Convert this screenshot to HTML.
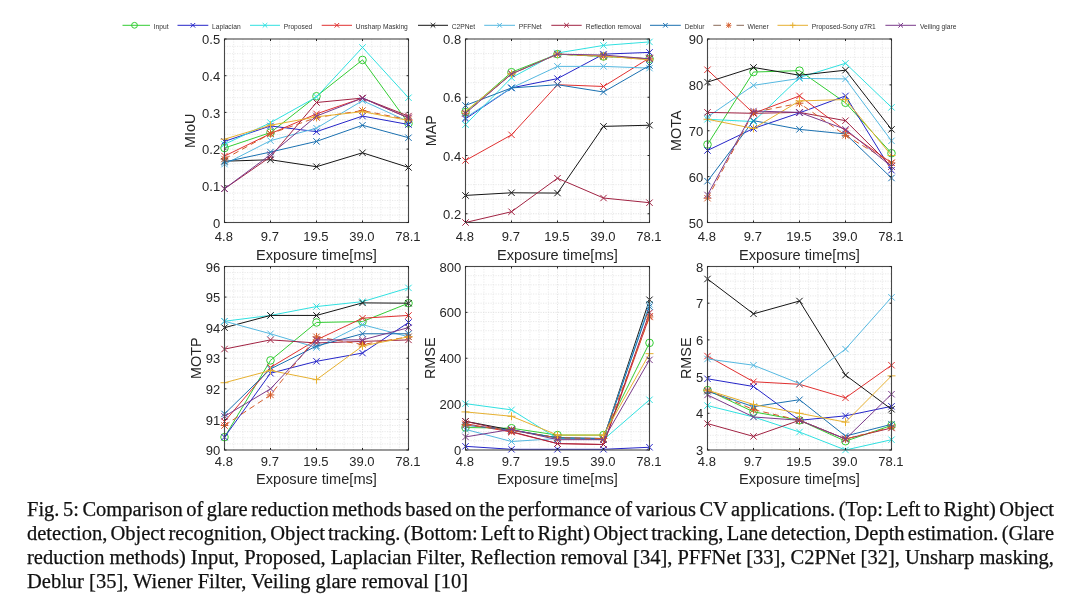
<!DOCTYPE html><html><head><meta charset="utf-8"><style>
html,body{margin:0;padding:0;background:#fff;width:1080px;height:615px;overflow:hidden}
svg{position:absolute;left:0;top:0;filter:blur(0.35px)}.cap{filter:blur(0.4px);-webkit-text-stroke:0.25px #111}
.cap{position:absolute;left:27px;top:496.9px;width:1027px;font-family:"Liberation Serif",serif;font-size:20.5px;line-height:24px;color:#111}.cap div{height:24px;white-space:nowrap;overflow:visible}.cap .j{text-align:justify;text-align-last:justify;word-spacing:-3px;white-space:normal}
</style></head><body>
<svg width="1080" height="615" viewBox="0 0 1080 615" font-family="Liberation Sans, sans-serif">
<line x1="122.5" y1="25.3" x2="150" y2="25.3" stroke="#33cc33" stroke-width="1"/>
<circle cx="134.50" cy="25.30" r="2.90" fill="none" stroke="#33cc33" stroke-width="1"/>
<text x="153.7" y="28.8" font-size="6.7" fill="#333">Input</text>
<line x1="177.5" y1="25.3" x2="208.3" y2="25.3" stroke="#2525c8" stroke-width="1"/>
<path d="M190.60,23.00L195.20,27.60M190.60,27.60L195.20,23.00" stroke="#2525c8" stroke-width="1" fill="none"/>
<text x="212" y="28.8" font-size="6.7" fill="#333">Laplacian</text>
<line x1="250" y1="25.3" x2="280" y2="25.3" stroke="#30e0e0" stroke-width="1"/>
<path d="M262.70,23.00L267.30,27.60M262.70,27.60L267.30,23.00" stroke="#30e0e0" stroke-width="1" fill="none"/>
<text x="283.7" y="28.8" font-size="6.7" fill="#333">Proposed</text>
<line x1="321.7" y1="25.3" x2="352" y2="25.3" stroke="#e03030" stroke-width="1"/>
<path d="M334.55,23.00L339.15,27.60M334.55,27.60L339.15,23.00" stroke="#e03030" stroke-width="1" fill="none"/>
<text x="355.8" y="28.8" font-size="6.7" fill="#333">Unsharp Masking</text>
<line x1="418" y1="25.3" x2="448" y2="25.3" stroke="#151515" stroke-width="1"/>
<path d="M430.70,23.00L435.30,27.60M430.70,27.60L435.30,23.00" stroke="#151515" stroke-width="1" fill="none"/>
<text x="451.7" y="28.8" font-size="6.7" fill="#333">C2PNet</text>
<line x1="484.2" y1="25.3" x2="515" y2="25.3" stroke="#55b8e0" stroke-width="1"/>
<path d="M497.30,23.00L501.90,27.60M497.30,27.60L501.90,23.00" stroke="#55b8e0" stroke-width="1" fill="none"/>
<text x="518.7" y="28.8" font-size="6.7" fill="#333">PFFNet</text>
<line x1="551.3" y1="25.3" x2="581.7" y2="25.3" stroke="#a02242" stroke-width="1"/>
<path d="M564.20,23.00L568.80,27.60M564.20,27.60L568.80,23.00" stroke="#a02242" stroke-width="1" fill="none"/>
<text x="585.8" y="28.8" font-size="6.7" fill="#333">Reflection removal</text>
<line x1="650" y1="25.3" x2="680.8" y2="25.3" stroke="#1a70b0" stroke-width="1"/>
<path d="M663.10,23.00L667.70,27.60M663.10,27.60L667.70,23.00" stroke="#1a70b0" stroke-width="1" fill="none"/>
<text x="684.7" y="28.8" font-size="6.7" fill="#333">Deblur</text>
<path d="M713.3,25.3H721M736.5,25.3H744" stroke="#8a6a58" stroke-width="1"/>
<path d="M726.40,23.00L731.00,27.60M726.40,27.60L731.00,23.00M725.94,25.30L731.46,25.30M728.70,22.54L728.70,28.06" stroke="#d45a28" stroke-width="0.9" fill="none"/>
<text x="747.5" y="28.8" font-size="6.7" fill="#333">Wiener</text>
<line x1="777.5" y1="25.3" x2="808" y2="25.3" stroke="#e6b030" stroke-width="1"/>
<path d="M789.88,25.30L795.62,25.30M792.75,22.43L792.75,28.18" stroke="#e6b030" stroke-width="1" fill="none"/>
<text x="811.7" y="28.8" font-size="6.7" fill="#333">Proposed-Sony α7R1</text>
<line x1="885.4" y1="25.3" x2="916" y2="25.3" stroke="#7a3a8a" stroke-width="1"/>
<path d="M898.40,23.00L903.00,27.60M898.40,27.60L903.00,23.00" stroke="#7a3a8a" stroke-width="1" fill="none"/>
<text x="920" y="28.8" font-size="6.7" fill="#333">Veiling glare</text>
<path d="M233.70,39.0V222.5M242.90,39.0V222.5M252.10,39.0V222.5M261.30,39.0V222.5M279.70,39.0V222.5M288.90,39.0V222.5M298.10,39.0V222.5M307.30,39.0V222.5M325.70,39.0V222.5M334.90,39.0V222.5M344.10,39.0V222.5M353.30,39.0V222.5M371.70,39.0V222.5M380.90,39.0V222.5M390.10,39.0V222.5M399.30,39.0V222.5M224.5,215.16H408.5M224.5,207.82H408.5M224.5,200.48H408.5M224.5,193.14H408.5M224.5,178.46H408.5M224.5,171.12H408.5M224.5,163.78H408.5M224.5,156.44H408.5M224.5,141.76H408.5M224.5,134.42H408.5M224.5,127.08H408.5M224.5,119.74H408.5M224.5,105.06H408.5M224.5,97.72H408.5M224.5,90.38H408.5M224.5,83.04H408.5M224.5,68.36H408.5M224.5,61.02H408.5M224.5,53.68H408.5M224.5,46.34H408.5" stroke="#e6e6e6" stroke-width="0.9" stroke-dasharray="1.2,1.3" fill="none"/>
<path d="M270.50,39.0V222.5M316.50,39.0V222.5M362.50,39.0V222.5M224.5,185.80H408.5M224.5,149.10H408.5M224.5,112.40H408.5M224.5,75.70H408.5" stroke="#e0e0e0" stroke-width="0.9" stroke-dasharray="1.2,1.3" fill="none"/>
<polyline points="224.50,148.00 270.50,132.59 316.50,96.25 362.50,59.92 408.50,123.41" fill="none" stroke="#33cc33" stroke-width="1"/>
<circle cx="224.50" cy="148.00" r="3.80" fill="none" stroke="#33cc33" stroke-width="1.0"/>
<circle cx="270.50" cy="132.59" r="3.80" fill="none" stroke="#33cc33" stroke-width="1.0"/>
<circle cx="316.50" cy="96.25" r="3.80" fill="none" stroke="#33cc33" stroke-width="1.0"/>
<circle cx="362.50" cy="59.92" r="3.80" fill="none" stroke="#33cc33" stroke-width="1.0"/>
<circle cx="408.50" cy="123.41" r="3.80" fill="none" stroke="#33cc33" stroke-width="1.0"/>
<polyline points="224.50,141.39 270.50,125.98 316.50,131.67 362.50,116.07 408.50,124.51" fill="none" stroke="#2525c8" stroke-width="1"/>
<path d="M221.30,138.19L227.70,144.59M221.30,144.59L227.70,138.19" stroke="#2525c8" stroke-width="1.0" fill="none"/>
<path d="M267.30,122.78L273.70,129.18M267.30,129.18L273.70,122.78" stroke="#2525c8" stroke-width="1.0" fill="none"/>
<path d="M313.30,128.47L319.70,134.87M313.30,134.87L319.70,128.47" stroke="#2525c8" stroke-width="1.0" fill="none"/>
<path d="M359.30,112.87L365.70,119.27M359.30,119.27L365.70,112.87" stroke="#2525c8" stroke-width="1.0" fill="none"/>
<path d="M405.30,121.31L411.70,127.71M405.30,127.71L411.70,121.31" stroke="#2525c8" stroke-width="1.0" fill="none"/>
<polyline points="224.50,144.33 270.50,122.68 316.50,96.99 362.50,47.44 408.50,97.72" fill="none" stroke="#30e0e0" stroke-width="1"/>
<path d="M221.30,141.13L227.70,147.53M221.30,147.53L227.70,141.13" stroke="#30e0e0" stroke-width="1.0" fill="none"/>
<path d="M267.30,119.48L273.70,125.88M267.30,125.88L273.70,119.48" stroke="#30e0e0" stroke-width="1.0" fill="none"/>
<path d="M313.30,93.79L319.70,100.19M313.30,100.19L319.70,93.79" stroke="#30e0e0" stroke-width="1.0" fill="none"/>
<path d="M359.30,44.24L365.70,50.64M359.30,50.64L365.70,44.24" stroke="#30e0e0" stroke-width="1.0" fill="none"/>
<path d="M405.30,94.52L411.70,100.92M405.30,100.92L411.70,94.52" stroke="#30e0e0" stroke-width="1.0" fill="none"/>
<polyline points="224.50,156.07 270.50,133.69 316.50,113.87 362.50,98.09 408.50,117.91" fill="none" stroke="#e03030" stroke-width="1"/>
<path d="M221.30,152.87L227.70,159.27M221.30,159.27L227.70,152.87" stroke="#e03030" stroke-width="1.0" fill="none"/>
<path d="M267.30,130.49L273.70,136.89M267.30,136.89L273.70,130.49" stroke="#e03030" stroke-width="1.0" fill="none"/>
<path d="M313.30,110.67L319.70,117.07M313.30,117.07L319.70,110.67" stroke="#e03030" stroke-width="1.0" fill="none"/>
<path d="M359.30,94.89L365.70,101.29M359.30,101.29L365.70,94.89" stroke="#e03030" stroke-width="1.0" fill="none"/>
<path d="M405.30,114.71L411.70,121.11M405.30,121.11L411.70,114.71" stroke="#e03030" stroke-width="1.0" fill="none"/>
<polyline points="224.50,161.21 270.50,159.74 316.50,166.72 362.50,152.77 408.50,167.45" fill="none" stroke="#151515" stroke-width="1"/>
<path d="M221.30,158.01L227.70,164.41M221.30,164.41L227.70,158.01" stroke="#151515" stroke-width="1.0" fill="none"/>
<path d="M267.30,156.54L273.70,162.94M267.30,162.94L273.70,156.54" stroke="#151515" stroke-width="1.0" fill="none"/>
<path d="M313.30,163.52L319.70,169.92M313.30,169.92L319.70,163.52" stroke="#151515" stroke-width="1.0" fill="none"/>
<path d="M359.30,149.57L365.70,155.97M359.30,155.97L365.70,149.57" stroke="#151515" stroke-width="1.0" fill="none"/>
<path d="M405.30,164.25L411.70,170.65M405.30,170.65L411.70,164.25" stroke="#151515" stroke-width="1.0" fill="none"/>
<polyline points="224.50,164.15 270.50,140.66 316.50,128.18 362.50,100.66 408.50,121.57" fill="none" stroke="#55b8e0" stroke-width="1"/>
<path d="M221.30,160.95L227.70,167.35M221.30,167.35L227.70,160.95" stroke="#55b8e0" stroke-width="1.0" fill="none"/>
<path d="M267.30,137.46L273.70,143.86M267.30,143.86L273.70,137.46" stroke="#55b8e0" stroke-width="1.0" fill="none"/>
<path d="M313.30,124.98L319.70,131.38M313.30,131.38L319.70,124.98" stroke="#55b8e0" stroke-width="1.0" fill="none"/>
<path d="M359.30,97.46L365.70,103.86M359.30,103.86L365.70,97.46" stroke="#55b8e0" stroke-width="1.0" fill="none"/>
<path d="M405.30,118.37L411.70,124.77M405.30,124.77L411.70,118.37" stroke="#55b8e0" stroke-width="1.0" fill="none"/>
<polyline points="224.50,188.74 270.50,156.81 316.50,102.49 362.50,98.09 408.50,116.07" fill="none" stroke="#a02242" stroke-width="1"/>
<path d="M221.30,185.54L227.70,191.94M221.30,191.94L227.70,185.54" stroke="#a02242" stroke-width="1.0" fill="none"/>
<path d="M267.30,153.61L273.70,160.01M267.30,160.01L273.70,153.61" stroke="#a02242" stroke-width="1.0" fill="none"/>
<path d="M313.30,99.29L319.70,105.69M313.30,105.69L319.70,99.29" stroke="#a02242" stroke-width="1.0" fill="none"/>
<path d="M359.30,94.89L365.70,101.29M359.30,101.29L365.70,94.89" stroke="#a02242" stroke-width="1.0" fill="none"/>
<path d="M405.30,112.87L411.70,119.27M405.30,119.27L411.70,112.87" stroke="#a02242" stroke-width="1.0" fill="none"/>
<polyline points="224.50,161.94 270.50,152.04 316.50,141.39 362.50,125.24 408.50,137.72" fill="none" stroke="#1a70b0" stroke-width="1"/>
<path d="M221.30,158.75L227.70,165.14M221.30,165.14L227.70,158.75" stroke="#1a70b0" stroke-width="1.0" fill="none"/>
<path d="M267.30,148.84L273.70,155.24M267.30,155.24L273.70,148.84" stroke="#1a70b0" stroke-width="1.0" fill="none"/>
<path d="M313.30,138.19L319.70,144.59M313.30,144.59L319.70,138.19" stroke="#1a70b0" stroke-width="1.0" fill="none"/>
<path d="M359.30,122.04L365.70,128.44M359.30,128.44L365.70,122.04" stroke="#1a70b0" stroke-width="1.0" fill="none"/>
<path d="M405.30,134.52L411.70,140.92M405.30,140.92L411.70,134.52" stroke="#1a70b0" stroke-width="1.0" fill="none"/>
<polyline points="224.50,159.01 270.50,133.69 316.50,117.54 362.50,110.56 408.50,119.74" fill="none" stroke="#d45a28" stroke-width="1" stroke-dasharray="6,4"/>
<path d="M221.30,155.81L227.70,162.21M221.30,162.21L227.70,155.81M220.66,159.01L228.34,159.01M224.50,155.17L224.50,162.85" stroke="#d45a28" stroke-width="1.0" fill="none"/>
<path d="M267.30,130.49L273.70,136.89M267.30,136.89L273.70,130.49M266.66,133.69L274.34,133.69M270.50,129.85L270.50,137.53" stroke="#d45a28" stroke-width="1.0" fill="none"/>
<path d="M313.30,114.34L319.70,120.74M313.30,120.74L319.70,114.34M312.66,117.54L320.34,117.54M316.50,113.70L316.50,121.38" stroke="#d45a28" stroke-width="1.0" fill="none"/>
<path d="M359.30,107.36L365.70,113.77M359.30,113.77L365.70,107.36M358.66,110.56L366.34,110.56M362.50,106.72L362.50,114.41" stroke="#d45a28" stroke-width="1.0" fill="none"/>
<path d="M405.30,116.54L411.70,122.94M405.30,122.94L411.70,116.54M404.66,119.74L412.34,119.74M408.50,115.90L408.50,123.58" stroke="#d45a28" stroke-width="1.0" fill="none"/>
<polyline points="224.50,139.19 270.50,125.24 316.50,116.80 362.50,111.67 408.50,120.47" fill="none" stroke="#e6b030" stroke-width="1"/>
<path d="M220.50,139.19L228.50,139.19M224.50,135.19L224.50,143.19" stroke="#e6b030" stroke-width="1.0" fill="none"/>
<path d="M266.50,125.24L274.50,125.24M270.50,121.24L270.50,129.25" stroke="#e6b030" stroke-width="1.0" fill="none"/>
<path d="M312.50,116.80L320.50,116.80M316.50,112.80L316.50,120.80" stroke="#e6b030" stroke-width="1.0" fill="none"/>
<path d="M358.50,111.67L366.50,111.67M362.50,107.67L362.50,115.67" stroke="#e6b030" stroke-width="1.0" fill="none"/>
<path d="M404.50,120.47L412.50,120.47M408.50,116.47L408.50,124.47" stroke="#e6b030" stroke-width="1.0" fill="none"/>
<polyline points="224.50,188.74 270.50,154.61 316.50,116.07 362.50,98.09 408.50,117.91" fill="none" stroke="#7a3a8a" stroke-width="1"/>
<path d="M221.30,185.54L227.70,191.94M221.30,191.94L227.70,185.54" stroke="#7a3a8a" stroke-width="1.0" fill="none"/>
<path d="M267.30,151.41L273.70,157.81M267.30,157.81L273.70,151.41" stroke="#7a3a8a" stroke-width="1.0" fill="none"/>
<path d="M313.30,112.87L319.70,119.27M313.30,119.27L319.70,112.87" stroke="#7a3a8a" stroke-width="1.0" fill="none"/>
<path d="M359.30,94.89L365.70,101.29M359.30,101.29L365.70,94.89" stroke="#7a3a8a" stroke-width="1.0" fill="none"/>
<path d="M405.30,114.71L411.70,121.11M405.30,121.11L411.70,114.71" stroke="#7a3a8a" stroke-width="1.0" fill="none"/>
<rect x="224.5" y="39.0" width="184.0" height="183.5" fill="none" stroke="#484848" stroke-width="1.1"/>
<path d="M224.50,222.5v-2M224.50,39.0v2M270.50,222.5v-2M270.50,39.0v2M316.50,222.5v-2M316.50,39.0v2M362.50,222.5v-2M362.50,39.0v2M408.50,222.5v-2M408.50,39.0v2M224.5,222.50h2M408.5,222.50h-2M224.5,185.80h2M408.5,185.80h-2M224.5,149.10h2M408.5,149.10h-2M224.5,112.40h2M408.5,112.40h-2M224.5,75.70h2M408.5,75.70h-2M224.5,39.00h2M408.5,39.00h-2" stroke="#262626" stroke-width="1" fill="none"/>
<text x="223.90" y="240.7" font-size="13" fill="#262626" text-anchor="middle">4.8</text>
<text x="269.90" y="240.7" font-size="13" fill="#262626" text-anchor="middle">9.7</text>
<text x="315.90" y="240.7" font-size="13" fill="#262626" text-anchor="middle">19.5</text>
<text x="361.90" y="240.7" font-size="13" fill="#262626" text-anchor="middle">39.0</text>
<text x="407.90" y="240.7" font-size="13" fill="#262626" text-anchor="middle">78.1</text>
<text x="220.2" y="227.60" font-size="13" fill="#262626" text-anchor="end">0</text>
<text x="220.2" y="190.90" font-size="13" fill="#262626" text-anchor="end">0.1</text>
<text x="220.2" y="154.20" font-size="13" fill="#262626" text-anchor="end">0.2</text>
<text x="220.2" y="117.50" font-size="13" fill="#262626" text-anchor="end">0.3</text>
<text x="220.2" y="80.80" font-size="13" fill="#262626" text-anchor="end">0.4</text>
<text x="220.2" y="44.10" font-size="13" fill="#262626" text-anchor="end">0.5</text>
<text x="316.50" y="259.5" font-size="14.6" fill="#262626" text-anchor="middle">Exposure time[ms]</text>
<text x="195.2" y="130.75" font-size="14.4" fill="#262626" text-anchor="middle" transform="rotate(-90 195.2 130.75)">MIoU</text>
<path d="M474.70,39.0V222.5M483.90,39.0V222.5M493.10,39.0V222.5M502.30,39.0V222.5M520.70,39.0V222.5M529.90,39.0V222.5M539.10,39.0V222.5M548.30,39.0V222.5M566.70,39.0V222.5M575.90,39.0V222.5M585.10,39.0V222.5M594.30,39.0V222.5M612.70,39.0V222.5M621.90,39.0V222.5M631.10,39.0V222.5M640.30,39.0V222.5M465.5,199.20H649.5M465.5,184.63H649.5M465.5,170.07H649.5M465.5,140.94H649.5M465.5,126.38H649.5M465.5,111.82H649.5M465.5,82.69H649.5M465.5,68.13H649.5M465.5,53.56H649.5" stroke="#e6e6e6" stroke-width="0.9" stroke-dasharray="1.2,1.3" fill="none"/>
<path d="M511.50,39.0V222.5M557.50,39.0V222.5M603.50,39.0V222.5M465.5,213.76H649.5M465.5,155.51H649.5M465.5,97.25H649.5" stroke="#e0e0e0" stroke-width="0.9" stroke-dasharray="1.2,1.3" fill="none"/>
<polyline points="465.50,112.11 511.50,72.20 557.50,54.15 603.50,56.48 649.50,58.81" fill="none" stroke="#33cc33" stroke-width="1"/>
<circle cx="465.50" cy="112.11" r="3.80" fill="none" stroke="#33cc33" stroke-width="1.0"/>
<circle cx="511.50" cy="72.20" r="3.80" fill="none" stroke="#33cc33" stroke-width="1.0"/>
<circle cx="557.50" cy="54.15" r="3.80" fill="none" stroke="#33cc33" stroke-width="1.0"/>
<circle cx="603.50" cy="56.48" r="3.80" fill="none" stroke="#33cc33" stroke-width="1.0"/>
<circle cx="649.50" cy="58.81" r="3.80" fill="none" stroke="#33cc33" stroke-width="1.0"/>
<polyline points="465.50,118.81 511.50,87.93 557.50,78.61 603.50,54.15 649.50,52.40" fill="none" stroke="#2525c8" stroke-width="1"/>
<path d="M462.30,115.61L468.70,122.01M462.30,122.01L468.70,115.61" stroke="#2525c8" stroke-width="1.0" fill="none"/>
<path d="M508.30,84.73L514.70,91.13M508.30,91.13L514.70,84.73" stroke="#2525c8" stroke-width="1.0" fill="none"/>
<path d="M554.30,75.41L560.70,81.81M554.30,81.81L560.70,75.41" stroke="#2525c8" stroke-width="1.0" fill="none"/>
<path d="M600.30,50.95L606.70,57.35M600.30,57.35L606.70,50.95" stroke="#2525c8" stroke-width="1.0" fill="none"/>
<path d="M646.30,49.20L652.70,55.60M646.30,55.60L652.70,49.20" stroke="#2525c8" stroke-width="1.0" fill="none"/>
<polyline points="465.50,124.63 511.50,77.74 557.50,52.98 603.50,45.41 649.50,41.91" fill="none" stroke="#30e0e0" stroke-width="1"/>
<path d="M462.30,121.43L468.70,127.83M462.30,127.83L468.70,121.43" stroke="#30e0e0" stroke-width="1.0" fill="none"/>
<path d="M508.30,74.54L514.70,80.94M508.30,80.94L514.70,74.54" stroke="#30e0e0" stroke-width="1.0" fill="none"/>
<path d="M554.30,49.78L560.70,56.18M554.30,56.18L560.70,49.78" stroke="#30e0e0" stroke-width="1.0" fill="none"/>
<path d="M600.30,42.21L606.70,48.61M600.30,48.61L606.70,42.21" stroke="#30e0e0" stroke-width="1.0" fill="none"/>
<path d="M646.30,38.71L652.70,45.11M646.30,45.11L652.70,38.71" stroke="#30e0e0" stroke-width="1.0" fill="none"/>
<polyline points="465.50,160.46 511.50,134.83 557.50,84.73 603.50,86.48 649.50,57.93" fill="none" stroke="#e03030" stroke-width="1"/>
<path d="M462.30,157.26L468.70,163.66M462.30,163.66L468.70,157.26" stroke="#e03030" stroke-width="1.0" fill="none"/>
<path d="M508.30,131.63L514.70,138.03M508.30,138.03L514.70,131.63" stroke="#e03030" stroke-width="1.0" fill="none"/>
<path d="M554.30,81.53L560.70,87.93M554.30,87.93L560.70,81.53" stroke="#e03030" stroke-width="1.0" fill="none"/>
<path d="M600.30,83.28L606.70,89.68M600.30,89.68L606.70,83.28" stroke="#e03030" stroke-width="1.0" fill="none"/>
<path d="M646.30,54.73L652.70,61.13M646.30,61.13L652.70,54.73" stroke="#e03030" stroke-width="1.0" fill="none"/>
<polyline points="465.50,195.41 511.50,192.79 557.50,193.08 603.50,126.38 649.50,125.22" fill="none" stroke="#151515" stroke-width="1"/>
<path d="M462.30,192.21L468.70,198.61M462.30,198.61L468.70,192.21" stroke="#151515" stroke-width="1.0" fill="none"/>
<path d="M508.30,189.59L514.70,195.99M508.30,195.99L514.70,189.59" stroke="#151515" stroke-width="1.0" fill="none"/>
<path d="M554.30,189.88L560.70,196.28M554.30,196.28L560.70,189.88" stroke="#151515" stroke-width="1.0" fill="none"/>
<path d="M600.30,123.18L606.70,129.58M600.30,129.58L606.70,123.18" stroke="#151515" stroke-width="1.0" fill="none"/>
<path d="M646.30,122.02L652.70,128.42M646.30,128.42L652.70,122.02" stroke="#151515" stroke-width="1.0" fill="none"/>
<polyline points="465.50,117.64 511.50,87.93 557.50,66.38 603.50,66.38 649.50,68.13" fill="none" stroke="#55b8e0" stroke-width="1"/>
<path d="M462.30,114.44L468.70,120.84M462.30,120.84L468.70,114.44" stroke="#55b8e0" stroke-width="1.0" fill="none"/>
<path d="M508.30,84.73L514.70,91.13M508.30,91.13L514.70,84.73" stroke="#55b8e0" stroke-width="1.0" fill="none"/>
<path d="M554.30,63.18L560.70,69.58M554.30,69.58L560.70,63.18" stroke="#55b8e0" stroke-width="1.0" fill="none"/>
<path d="M600.30,63.18L606.70,69.58M600.30,69.58L606.70,63.18" stroke="#55b8e0" stroke-width="1.0" fill="none"/>
<path d="M646.30,64.93L652.70,71.33M646.30,71.33L652.70,64.93" stroke="#55b8e0" stroke-width="1.0" fill="none"/>
<polyline points="465.50,222.50 511.50,211.72 557.50,178.23 603.50,198.03 649.50,202.69" fill="none" stroke="#a02242" stroke-width="1"/>
<path d="M462.30,219.30L468.70,225.70M462.30,225.70L468.70,219.30" stroke="#a02242" stroke-width="1.0" fill="none"/>
<path d="M508.30,208.52L514.70,214.92M508.30,214.92L514.70,208.52" stroke="#a02242" stroke-width="1.0" fill="none"/>
<path d="M554.30,175.03L560.70,181.43M554.30,181.43L560.70,175.03" stroke="#a02242" stroke-width="1.0" fill="none"/>
<path d="M600.30,194.83L606.70,201.23M600.30,201.23L606.70,194.83" stroke="#a02242" stroke-width="1.0" fill="none"/>
<path d="M646.30,199.49L652.70,205.89M646.30,205.89L652.70,199.49" stroke="#a02242" stroke-width="1.0" fill="none"/>
<polyline points="465.50,105.41 511.50,87.93 557.50,84.73 603.50,92.01 649.50,65.51" fill="none" stroke="#1a70b0" stroke-width="1"/>
<path d="M462.30,102.21L468.70,108.61M462.30,108.61L468.70,102.21" stroke="#1a70b0" stroke-width="1.0" fill="none"/>
<path d="M508.30,84.73L514.70,91.13M508.30,91.13L514.70,84.73" stroke="#1a70b0" stroke-width="1.0" fill="none"/>
<path d="M554.30,81.53L560.70,87.93M554.30,87.93L560.70,81.53" stroke="#1a70b0" stroke-width="1.0" fill="none"/>
<path d="M600.30,88.81L606.70,95.21M600.30,95.21L606.70,88.81" stroke="#1a70b0" stroke-width="1.0" fill="none"/>
<path d="M646.30,62.31L652.70,68.71M646.30,68.71L652.70,62.31" stroke="#1a70b0" stroke-width="1.0" fill="none"/>
<polyline points="465.50,113.27 511.50,73.95 557.50,54.15 603.50,56.48 649.50,58.81" fill="none" stroke="#d45a28" stroke-width="1" stroke-dasharray="6,4"/>
<path d="M462.30,110.07L468.70,116.47M462.30,116.47L468.70,110.07M461.66,113.27L469.34,113.27M465.50,109.43L465.50,117.11" stroke="#d45a28" stroke-width="1.0" fill="none"/>
<path d="M508.30,70.75L514.70,77.15M508.30,77.15L514.70,70.75M507.66,73.95L515.34,73.95M511.50,70.11L511.50,77.79" stroke="#d45a28" stroke-width="1.0" fill="none"/>
<path d="M554.30,50.95L560.70,57.35M554.30,57.35L560.70,50.95M553.66,54.15L561.34,54.15M557.50,50.31L557.50,57.99" stroke="#d45a28" stroke-width="1.0" fill="none"/>
<path d="M600.30,53.28L606.70,59.68M600.30,59.68L606.70,53.28M599.66,56.48L607.34,56.48M603.50,52.64L603.50,60.32" stroke="#d45a28" stroke-width="1.0" fill="none"/>
<path d="M646.30,55.61L652.70,62.01M646.30,62.01L652.70,55.61M645.66,58.81L653.34,58.81M649.50,54.97L649.50,62.65" stroke="#d45a28" stroke-width="1.0" fill="none"/>
<polyline points="465.50,111.23 511.50,73.95 557.50,54.15 603.50,55.89 649.50,59.97" fill="none" stroke="#e6b030" stroke-width="1"/>
<path d="M461.50,111.23L469.50,111.23M465.50,107.23L465.50,115.23" stroke="#e6b030" stroke-width="1.0" fill="none"/>
<path d="M507.50,73.95L515.50,73.95M511.50,69.95L511.50,77.95" stroke="#e6b030" stroke-width="1.0" fill="none"/>
<path d="M553.50,54.15L561.50,54.15M557.50,50.15L557.50,58.15" stroke="#e6b030" stroke-width="1.0" fill="none"/>
<path d="M599.50,55.89L607.50,55.89M603.50,51.89L603.50,59.89" stroke="#e6b030" stroke-width="1.0" fill="none"/>
<path d="M645.50,59.97L653.50,59.97M649.50,55.97L649.50,63.97" stroke="#e6b030" stroke-width="1.0" fill="none"/>
<polyline points="465.50,113.27 511.50,73.95 557.50,54.15 603.50,55.02 649.50,58.81" fill="none" stroke="#7a3a8a" stroke-width="1"/>
<path d="M462.30,110.07L468.70,116.47M462.30,116.47L468.70,110.07" stroke="#7a3a8a" stroke-width="1.0" fill="none"/>
<path d="M508.30,70.75L514.70,77.15M508.30,77.15L514.70,70.75" stroke="#7a3a8a" stroke-width="1.0" fill="none"/>
<path d="M554.30,50.95L560.70,57.35M554.30,57.35L560.70,50.95" stroke="#7a3a8a" stroke-width="1.0" fill="none"/>
<path d="M600.30,51.82L606.70,58.22M600.30,58.22L606.70,51.82" stroke="#7a3a8a" stroke-width="1.0" fill="none"/>
<path d="M646.30,55.61L652.70,62.01M646.30,62.01L652.70,55.61" stroke="#7a3a8a" stroke-width="1.0" fill="none"/>
<rect x="465.5" y="39.0" width="184.0" height="183.5" fill="none" stroke="#484848" stroke-width="1.1"/>
<path d="M465.50,222.5v-2M465.50,39.0v2M511.50,222.5v-2M511.50,39.0v2M557.50,222.5v-2M557.50,39.0v2M603.50,222.5v-2M603.50,39.0v2M649.50,222.5v-2M649.50,39.0v2M465.5,213.76h2M649.5,213.76h-2M465.5,155.51h2M649.5,155.51h-2M465.5,97.25h2M649.5,97.25h-2M465.5,39.00h2M649.5,39.00h-2" stroke="#262626" stroke-width="1" fill="none"/>
<text x="464.90" y="240.7" font-size="13" fill="#262626" text-anchor="middle">4.8</text>
<text x="510.90" y="240.7" font-size="13" fill="#262626" text-anchor="middle">9.7</text>
<text x="556.90" y="240.7" font-size="13" fill="#262626" text-anchor="middle">19.5</text>
<text x="602.90" y="240.7" font-size="13" fill="#262626" text-anchor="middle">39.0</text>
<text x="648.90" y="240.7" font-size="13" fill="#262626" text-anchor="middle">78.1</text>
<text x="461.2" y="218.86" font-size="13" fill="#262626" text-anchor="end">0.2</text>
<text x="461.2" y="160.61" font-size="13" fill="#262626" text-anchor="end">0.4</text>
<text x="461.2" y="102.35" font-size="13" fill="#262626" text-anchor="end">0.6</text>
<text x="461.2" y="44.10" font-size="13" fill="#262626" text-anchor="end">0.8</text>
<text x="557.50" y="259.5" font-size="14.6" fill="#262626" text-anchor="middle">Exposure time[ms]</text>
<text x="435.6" y="130.75" font-size="14.4" fill="#262626" text-anchor="middle" transform="rotate(-90 435.6 130.75)">MAP</text>
<path d="M716.70,39.0V222.5M725.90,39.0V222.5M735.10,39.0V222.5M744.30,39.0V222.5M762.70,39.0V222.5M771.90,39.0V222.5M781.10,39.0V222.5M790.30,39.0V222.5M808.70,39.0V222.5M817.90,39.0V222.5M827.10,39.0V222.5M836.30,39.0V222.5M854.70,39.0V222.5M863.90,39.0V222.5M873.10,39.0V222.5M882.30,39.0V222.5M707.5,213.32H891.5M707.5,204.15H891.5M707.5,194.97H891.5M707.5,185.80H891.5M707.5,167.45H891.5M707.5,158.28H891.5M707.5,149.10H891.5M707.5,139.93H891.5M707.5,121.57H891.5M707.5,112.40H891.5M707.5,103.22H891.5M707.5,94.05H891.5M707.5,75.70H891.5M707.5,66.53H891.5M707.5,57.35H891.5M707.5,48.18H891.5" stroke="#e6e6e6" stroke-width="0.9" stroke-dasharray="1.2,1.3" fill="none"/>
<path d="M753.50,39.0V222.5M799.50,39.0V222.5M845.50,39.0V222.5M707.5,176.62H891.5M707.5,130.75H891.5M707.5,84.88H891.5" stroke="#e0e0e0" stroke-width="0.9" stroke-dasharray="1.2,1.3" fill="none"/>
<polyline points="707.50,144.51 753.50,72.03 799.50,70.65 845.50,102.77 891.50,153.23" fill="none" stroke="#33cc33" stroke-width="1"/>
<circle cx="707.50" cy="144.51" r="3.80" fill="none" stroke="#33cc33" stroke-width="1.0"/>
<circle cx="753.50" cy="72.03" r="3.80" fill="none" stroke="#33cc33" stroke-width="1.0"/>
<circle cx="799.50" cy="70.65" r="3.80" fill="none" stroke="#33cc33" stroke-width="1.0"/>
<circle cx="845.50" cy="102.77" r="3.80" fill="none" stroke="#33cc33" stroke-width="1.0"/>
<circle cx="891.50" cy="153.23" r="3.80" fill="none" stroke="#33cc33" stroke-width="1.0"/>
<polyline points="707.50,150.48 753.50,128.46 799.50,112.86 845.50,95.89 891.50,170.20" fill="none" stroke="#2525c8" stroke-width="1"/>
<path d="M704.30,147.28L710.70,153.68M704.30,153.68L710.70,147.28" stroke="#2525c8" stroke-width="1.0" fill="none"/>
<path d="M750.30,125.26L756.70,131.66M750.30,131.66L756.70,125.26" stroke="#2525c8" stroke-width="1.0" fill="none"/>
<path d="M796.30,109.66L802.70,116.06M796.30,116.06L802.70,109.66" stroke="#2525c8" stroke-width="1.0" fill="none"/>
<path d="M842.30,92.69L848.70,99.09M842.30,99.09L848.70,92.69" stroke="#2525c8" stroke-width="1.0" fill="none"/>
<path d="M888.30,167.00L894.70,173.40M888.30,173.40L894.70,167.00" stroke="#2525c8" stroke-width="1.0" fill="none"/>
<polyline points="707.50,119.28 753.50,121.57 799.50,77.54 845.50,63.31 891.50,107.35" fill="none" stroke="#30e0e0" stroke-width="1"/>
<path d="M704.30,116.08L710.70,122.48M704.30,122.48L710.70,116.08" stroke="#30e0e0" stroke-width="1.0" fill="none"/>
<path d="M750.30,118.37L756.70,124.77M750.30,124.77L756.70,118.37" stroke="#30e0e0" stroke-width="1.0" fill="none"/>
<path d="M796.30,74.34L802.70,80.74M796.30,80.74L802.70,74.34" stroke="#30e0e0" stroke-width="1.0" fill="none"/>
<path d="M842.30,60.11L848.70,66.51M842.30,66.51L848.70,60.11" stroke="#30e0e0" stroke-width="1.0" fill="none"/>
<path d="M888.30,104.15L894.70,110.55M888.30,110.55L894.70,104.15" stroke="#30e0e0" stroke-width="1.0" fill="none"/>
<polyline points="707.50,69.74 753.50,113.32 799.50,95.89 845.50,130.75 891.50,162.86" fill="none" stroke="#e03030" stroke-width="1"/>
<path d="M704.30,66.54L710.70,72.94M704.30,72.94L710.70,66.54" stroke="#e03030" stroke-width="1.0" fill="none"/>
<path d="M750.30,110.12L756.70,116.52M750.30,116.52L756.70,110.12" stroke="#e03030" stroke-width="1.0" fill="none"/>
<path d="M796.30,92.69L802.70,99.09M796.30,99.09L802.70,92.69" stroke="#e03030" stroke-width="1.0" fill="none"/>
<path d="M842.30,127.55L848.70,133.95M842.30,133.95L848.70,127.55" stroke="#e03030" stroke-width="1.0" fill="none"/>
<path d="M888.30,159.66L894.70,166.06M888.30,166.06L894.70,159.66" stroke="#e03030" stroke-width="1.0" fill="none"/>
<polyline points="707.50,82.12 753.50,67.44 799.50,75.24 845.50,70.19 891.50,129.37" fill="none" stroke="#151515" stroke-width="1"/>
<path d="M704.30,78.92L710.70,85.32M704.30,85.32L710.70,78.92" stroke="#151515" stroke-width="1.0" fill="none"/>
<path d="M750.30,64.24L756.70,70.64M750.30,70.64L756.70,64.24" stroke="#151515" stroke-width="1.0" fill="none"/>
<path d="M796.30,72.04L802.70,78.44M796.30,78.44L802.70,72.04" stroke="#151515" stroke-width="1.0" fill="none"/>
<path d="M842.30,66.99L848.70,73.39M842.30,73.39L848.70,66.99" stroke="#151515" stroke-width="1.0" fill="none"/>
<path d="M888.30,126.17L894.70,132.57M888.30,132.57L894.70,126.17" stroke="#151515" stroke-width="1.0" fill="none"/>
<polyline points="707.50,116.99 753.50,85.33 799.50,78.45 845.50,78.91 891.50,140.84" fill="none" stroke="#55b8e0" stroke-width="1"/>
<path d="M704.30,113.79L710.70,120.19M704.30,120.19L710.70,113.79" stroke="#55b8e0" stroke-width="1.0" fill="none"/>
<path d="M750.30,82.13L756.70,88.53M750.30,88.53L756.70,82.13" stroke="#55b8e0" stroke-width="1.0" fill="none"/>
<path d="M796.30,75.25L802.70,81.65M796.30,81.65L802.70,75.25" stroke="#55b8e0" stroke-width="1.0" fill="none"/>
<path d="M842.30,75.71L848.70,82.11M842.30,82.11L848.70,75.71" stroke="#55b8e0" stroke-width="1.0" fill="none"/>
<path d="M888.30,137.64L894.70,144.04M888.30,144.04L894.70,137.64" stroke="#55b8e0" stroke-width="1.0" fill="none"/>
<polyline points="707.50,112.40 753.50,113.32 799.50,112.40 845.50,120.66 891.50,166.53" fill="none" stroke="#a02242" stroke-width="1"/>
<path d="M704.30,109.20L710.70,115.60M704.30,115.60L710.70,109.20" stroke="#a02242" stroke-width="1.0" fill="none"/>
<path d="M750.30,110.12L756.70,116.52M750.30,116.52L756.70,110.12" stroke="#a02242" stroke-width="1.0" fill="none"/>
<path d="M796.30,109.20L802.70,115.60M796.30,115.60L802.70,109.20" stroke="#a02242" stroke-width="1.0" fill="none"/>
<path d="M842.30,117.46L848.70,123.86M842.30,123.86L848.70,117.46" stroke="#a02242" stroke-width="1.0" fill="none"/>
<path d="M888.30,163.33L894.70,169.73M888.30,169.73L894.70,163.33" stroke="#a02242" stroke-width="1.0" fill="none"/>
<polyline points="707.50,181.21 753.50,120.66 799.50,129.37 845.50,133.96 891.50,178.00" fill="none" stroke="#1a70b0" stroke-width="1"/>
<path d="M704.30,178.01L710.70,184.41M704.30,184.41L710.70,178.01" stroke="#1a70b0" stroke-width="1.0" fill="none"/>
<path d="M750.30,117.46L756.70,123.86M750.30,123.86L756.70,117.46" stroke="#1a70b0" stroke-width="1.0" fill="none"/>
<path d="M796.30,126.17L802.70,132.57M796.30,132.57L802.70,126.17" stroke="#1a70b0" stroke-width="1.0" fill="none"/>
<path d="M842.30,130.76L848.70,137.16M842.30,137.16L848.70,130.76" stroke="#1a70b0" stroke-width="1.0" fill="none"/>
<path d="M888.30,174.80L894.70,181.20M888.30,181.20L894.70,174.80" stroke="#1a70b0" stroke-width="1.0" fill="none"/>
<polyline points="707.50,198.19 753.50,112.40 799.50,103.22 845.50,135.34 891.50,162.86" fill="none" stroke="#d45a28" stroke-width="1" stroke-dasharray="6,4"/>
<path d="M704.30,194.99L710.70,201.39M704.30,201.39L710.70,194.99M703.66,198.19L711.34,198.19M707.50,194.35L707.50,202.03" stroke="#d45a28" stroke-width="1.0" fill="none"/>
<path d="M750.30,109.20L756.70,115.60M750.30,115.60L756.70,109.20M749.66,112.40L757.34,112.40M753.50,108.56L753.50,116.24" stroke="#d45a28" stroke-width="1.0" fill="none"/>
<path d="M796.30,100.02L802.70,106.42M796.30,106.42L802.70,100.02M795.66,103.22L803.34,103.22M799.50,99.38L799.50,107.06" stroke="#d45a28" stroke-width="1.0" fill="none"/>
<path d="M842.30,132.14L848.70,138.54M842.30,138.54L848.70,132.14M841.66,135.34L849.34,135.34M845.50,131.50L845.50,139.18" stroke="#d45a28" stroke-width="1.0" fill="none"/>
<path d="M888.30,159.66L894.70,166.06M888.30,166.06L894.70,159.66M887.66,162.86L895.34,162.86M891.50,159.02L891.50,166.70" stroke="#d45a28" stroke-width="1.0" fill="none"/>
<polyline points="707.50,119.28 753.50,128.46 799.50,100.93 845.50,99.56 891.50,155.52" fill="none" stroke="#e6b030" stroke-width="1"/>
<path d="M703.50,119.28L711.50,119.28M707.50,115.28L707.50,123.28" stroke="#e6b030" stroke-width="1.0" fill="none"/>
<path d="M749.50,128.46L757.50,128.46M753.50,124.46L753.50,132.46" stroke="#e6b030" stroke-width="1.0" fill="none"/>
<path d="M795.50,100.93L803.50,100.93M799.50,96.93L799.50,104.93" stroke="#e6b030" stroke-width="1.0" fill="none"/>
<path d="M841.50,99.56L849.50,99.56M845.50,95.56L845.50,103.56" stroke="#e6b030" stroke-width="1.0" fill="none"/>
<path d="M887.50,155.52L895.50,155.52M891.50,151.52L891.50,159.52" stroke="#e6b030" stroke-width="1.0" fill="none"/>
<polyline points="707.50,194.97 753.50,111.02 799.50,112.40 845.50,129.37 891.50,166.53" fill="none" stroke="#7a3a8a" stroke-width="1"/>
<path d="M704.30,191.78L710.70,198.17M704.30,198.17L710.70,191.78" stroke="#7a3a8a" stroke-width="1.0" fill="none"/>
<path d="M750.30,107.82L756.70,114.22M750.30,114.22L756.70,107.82" stroke="#7a3a8a" stroke-width="1.0" fill="none"/>
<path d="M796.30,109.20L802.70,115.60M796.30,115.60L802.70,109.20" stroke="#7a3a8a" stroke-width="1.0" fill="none"/>
<path d="M842.30,126.17L848.70,132.57M842.30,132.57L848.70,126.17" stroke="#7a3a8a" stroke-width="1.0" fill="none"/>
<path d="M888.30,163.33L894.70,169.73M888.30,169.73L894.70,163.33" stroke="#7a3a8a" stroke-width="1.0" fill="none"/>
<rect x="707.5" y="39.0" width="184.0" height="183.5" fill="none" stroke="#484848" stroke-width="1.1"/>
<path d="M707.50,222.5v-2M707.50,39.0v2M753.50,222.5v-2M753.50,39.0v2M799.50,222.5v-2M799.50,39.0v2M845.50,222.5v-2M845.50,39.0v2M891.50,222.5v-2M891.50,39.0v2M707.5,222.50h2M891.5,222.50h-2M707.5,176.62h2M891.5,176.62h-2M707.5,130.75h2M891.5,130.75h-2M707.5,84.88h2M891.5,84.88h-2M707.5,39.00h2M891.5,39.00h-2" stroke="#262626" stroke-width="1" fill="none"/>
<text x="706.90" y="240.7" font-size="13" fill="#262626" text-anchor="middle">4.8</text>
<text x="752.90" y="240.7" font-size="13" fill="#262626" text-anchor="middle">9.7</text>
<text x="798.90" y="240.7" font-size="13" fill="#262626" text-anchor="middle">19.5</text>
<text x="844.90" y="240.7" font-size="13" fill="#262626" text-anchor="middle">39.0</text>
<text x="890.90" y="240.7" font-size="13" fill="#262626" text-anchor="middle">78.1</text>
<text x="703.2" y="227.60" font-size="13" fill="#262626" text-anchor="end">50</text>
<text x="703.2" y="181.72" font-size="13" fill="#262626" text-anchor="end">60</text>
<text x="703.2" y="135.85" font-size="13" fill="#262626" text-anchor="end">70</text>
<text x="703.2" y="89.97" font-size="13" fill="#262626" text-anchor="end">80</text>
<text x="703.2" y="44.10" font-size="13" fill="#262626" text-anchor="end">90</text>
<text x="799.50" y="259.5" font-size="14.6" fill="#262626" text-anchor="middle">Exposure time[ms]</text>
<text x="681.2" y="130.75" font-size="14.4" fill="#262626" text-anchor="middle" transform="rotate(-90 681.2 130.75)">MOTA</text>
<path d="M233.70,266.5V450.0M242.90,266.5V450.0M252.10,266.5V450.0M261.30,266.5V450.0M279.70,266.5V450.0M288.90,266.5V450.0M298.10,266.5V450.0M307.30,266.5V450.0M325.70,266.5V450.0M334.90,266.5V450.0M344.10,266.5V450.0M353.30,266.5V450.0M371.70,266.5V450.0M380.90,266.5V450.0M390.10,266.5V450.0M399.30,266.5V450.0M224.5,443.88H408.5M224.5,437.77H408.5M224.5,431.65H408.5M224.5,425.53H408.5M224.5,413.30H408.5M224.5,407.18H408.5M224.5,401.07H408.5M224.5,394.95H408.5M224.5,382.72H408.5M224.5,376.60H408.5M224.5,370.48H408.5M224.5,364.37H408.5M224.5,352.13H408.5M224.5,346.02H408.5M224.5,339.90H408.5M224.5,333.78H408.5M224.5,321.55H408.5M224.5,315.43H408.5M224.5,309.32H408.5M224.5,303.20H408.5M224.5,290.97H408.5M224.5,284.85H408.5M224.5,278.73H408.5M224.5,272.62H408.5" stroke="#e6e6e6" stroke-width="0.9" stroke-dasharray="1.2,1.3" fill="none"/>
<path d="M270.50,266.5V450.0M316.50,266.5V450.0M362.50,266.5V450.0M224.5,419.42H408.5M224.5,388.83H408.5M224.5,358.25H408.5M224.5,327.67H408.5M224.5,297.08H408.5" stroke="#e0e0e0" stroke-width="0.9" stroke-dasharray="1.2,1.3" fill="none"/>
<polyline points="224.50,437.15 270.50,360.39 316.50,322.47 362.50,321.55 408.50,303.20" fill="none" stroke="#33cc33" stroke-width="1"/>
<circle cx="224.50" cy="437.15" r="3.80" fill="none" stroke="#33cc33" stroke-width="1.0"/>
<circle cx="270.50" cy="360.39" r="3.80" fill="none" stroke="#33cc33" stroke-width="1.0"/>
<circle cx="316.50" cy="322.47" r="3.80" fill="none" stroke="#33cc33" stroke-width="1.0"/>
<circle cx="362.50" cy="321.55" r="3.80" fill="none" stroke="#33cc33" stroke-width="1.0"/>
<circle cx="408.50" cy="303.20" r="3.80" fill="none" stroke="#33cc33" stroke-width="1.0"/>
<polyline points="224.50,437.15 270.50,373.24 316.50,361.31 362.50,353.05 408.50,322.47" fill="none" stroke="#2525c8" stroke-width="1"/>
<path d="M221.30,433.95L227.70,440.35M221.30,440.35L227.70,433.95" stroke="#2525c8" stroke-width="1.0" fill="none"/>
<path d="M267.30,370.04L273.70,376.44M267.30,376.44L273.70,370.04" stroke="#2525c8" stroke-width="1.0" fill="none"/>
<path d="M313.30,358.11L319.70,364.51M313.30,364.51L319.70,358.11" stroke="#2525c8" stroke-width="1.0" fill="none"/>
<path d="M359.30,349.85L365.70,356.25M359.30,356.25L365.70,349.85" stroke="#2525c8" stroke-width="1.0" fill="none"/>
<path d="M405.30,319.27L411.70,325.67M405.30,325.67L411.70,319.27" stroke="#2525c8" stroke-width="1.0" fill="none"/>
<polyline points="224.50,321.24 270.50,315.43 316.50,306.56 362.50,301.67 408.50,287.91" fill="none" stroke="#30e0e0" stroke-width="1"/>
<path d="M221.30,318.04L227.70,324.44M221.30,324.44L227.70,318.04" stroke="#30e0e0" stroke-width="1.0" fill="none"/>
<path d="M267.30,312.23L273.70,318.63M267.30,318.63L273.70,312.23" stroke="#30e0e0" stroke-width="1.0" fill="none"/>
<path d="M313.30,303.36L319.70,309.76M313.30,309.76L319.70,303.36" stroke="#30e0e0" stroke-width="1.0" fill="none"/>
<path d="M359.30,298.47L365.70,304.87M359.30,304.87L365.70,298.47" stroke="#30e0e0" stroke-width="1.0" fill="none"/>
<path d="M405.30,284.71L411.70,291.11M405.30,291.11L411.70,284.71" stroke="#30e0e0" stroke-width="1.0" fill="none"/>
<polyline points="224.50,421.56 270.50,367.42 316.50,339.90 362.50,318.19 408.50,315.43" fill="none" stroke="#e03030" stroke-width="1"/>
<path d="M221.30,418.36L227.70,424.76M221.30,424.76L227.70,418.36" stroke="#e03030" stroke-width="1.0" fill="none"/>
<path d="M267.30,364.22L273.70,370.62M267.30,370.62L273.70,364.22" stroke="#e03030" stroke-width="1.0" fill="none"/>
<path d="M313.30,336.70L319.70,343.10M313.30,343.10L319.70,336.70" stroke="#e03030" stroke-width="1.0" fill="none"/>
<path d="M359.30,314.99L365.70,321.39M359.30,321.39L365.70,314.99" stroke="#e03030" stroke-width="1.0" fill="none"/>
<path d="M405.30,312.23L411.70,318.63M405.30,318.63L411.70,312.23" stroke="#e03030" stroke-width="1.0" fill="none"/>
<polyline points="224.50,327.67 270.50,315.43 316.50,315.43 362.50,302.89 408.50,303.20" fill="none" stroke="#151515" stroke-width="1"/>
<path d="M221.30,324.47L227.70,330.87M221.30,330.87L227.70,324.47" stroke="#151515" stroke-width="1.0" fill="none"/>
<path d="M267.30,312.23L273.70,318.63M267.30,318.63L273.70,312.23" stroke="#151515" stroke-width="1.0" fill="none"/>
<path d="M313.30,312.23L319.70,318.63M313.30,318.63L319.70,312.23" stroke="#151515" stroke-width="1.0" fill="none"/>
<path d="M359.30,299.69L365.70,306.09M359.30,306.09L365.70,299.69" stroke="#151515" stroke-width="1.0" fill="none"/>
<path d="M405.30,300.00L411.70,306.40M405.30,306.40L411.70,300.00" stroke="#151515" stroke-width="1.0" fill="none"/>
<polyline points="224.50,321.24 270.50,333.78 316.50,347.55 362.50,324.61 408.50,336.84" fill="none" stroke="#55b8e0" stroke-width="1"/>
<path d="M221.30,318.04L227.70,324.44M221.30,324.44L227.70,318.04" stroke="#55b8e0" stroke-width="1.0" fill="none"/>
<path d="M267.30,330.58L273.70,336.98M267.30,336.98L273.70,330.58" stroke="#55b8e0" stroke-width="1.0" fill="none"/>
<path d="M313.30,344.35L319.70,350.75M313.30,350.75L319.70,344.35" stroke="#55b8e0" stroke-width="1.0" fill="none"/>
<path d="M359.30,321.41L365.70,327.81M359.30,327.81L365.70,321.41" stroke="#55b8e0" stroke-width="1.0" fill="none"/>
<path d="M405.30,333.64L411.70,340.04M405.30,340.04L411.70,333.64" stroke="#55b8e0" stroke-width="1.0" fill="none"/>
<polyline points="224.50,349.08 270.50,339.90 316.50,342.96 362.50,341.43 408.50,339.90" fill="none" stroke="#a02242" stroke-width="1"/>
<path d="M221.30,345.88L227.70,352.28M221.30,352.28L227.70,345.88" stroke="#a02242" stroke-width="1.0" fill="none"/>
<path d="M267.30,336.70L273.70,343.10M267.30,343.10L273.70,336.70" stroke="#a02242" stroke-width="1.0" fill="none"/>
<path d="M313.30,339.76L319.70,346.16M313.30,346.16L319.70,339.76" stroke="#a02242" stroke-width="1.0" fill="none"/>
<path d="M359.30,338.23L365.70,344.63M359.30,344.63L365.70,338.23" stroke="#a02242" stroke-width="1.0" fill="none"/>
<path d="M405.30,336.70L411.70,343.10M405.30,343.10L411.70,336.70" stroke="#a02242" stroke-width="1.0" fill="none"/>
<polyline points="224.50,413.91 270.50,368.95 316.50,346.02 362.50,333.78 408.50,333.78" fill="none" stroke="#1a70b0" stroke-width="1"/>
<path d="M221.30,410.71L227.70,417.11M221.30,417.11L227.70,410.71" stroke="#1a70b0" stroke-width="1.0" fill="none"/>
<path d="M267.30,365.75L273.70,372.15M267.30,372.15L273.70,365.75" stroke="#1a70b0" stroke-width="1.0" fill="none"/>
<path d="M313.30,342.82L319.70,349.22M313.30,349.22L319.70,342.82" stroke="#1a70b0" stroke-width="1.0" fill="none"/>
<path d="M359.30,330.58L365.70,336.98M359.30,336.98L365.70,330.58" stroke="#1a70b0" stroke-width="1.0" fill="none"/>
<path d="M405.30,330.58L411.70,336.98M405.30,336.98L411.70,330.58" stroke="#1a70b0" stroke-width="1.0" fill="none"/>
<polyline points="224.50,425.53 270.50,394.95 316.50,336.84 362.50,344.49 408.50,336.84" fill="none" stroke="#d45a28" stroke-width="1" stroke-dasharray="6,4"/>
<path d="M221.30,422.33L227.70,428.73M221.30,428.73L227.70,422.33M220.66,425.53L228.34,425.53M224.50,421.69L224.50,429.37" stroke="#d45a28" stroke-width="1.0" fill="none"/>
<path d="M267.30,391.75L273.70,398.15M267.30,398.15L273.70,391.75M266.66,394.95L274.34,394.95M270.50,391.11L270.50,398.79" stroke="#d45a28" stroke-width="1.0" fill="none"/>
<path d="M313.30,333.64L319.70,340.04M313.30,340.04L319.70,333.64M312.66,336.84L320.34,336.84M316.50,333.00L316.50,340.68" stroke="#d45a28" stroke-width="1.0" fill="none"/>
<path d="M359.30,341.29L365.70,347.69M359.30,347.69L365.70,341.29M358.66,344.49L366.34,344.49M362.50,340.65L362.50,348.33" stroke="#d45a28" stroke-width="1.0" fill="none"/>
<path d="M405.30,333.64L411.70,340.04M405.30,340.04L411.70,333.64M404.66,336.84L412.34,336.84M408.50,333.00L408.50,340.68" stroke="#d45a28" stroke-width="1.0" fill="none"/>
<polyline points="224.50,382.72 270.50,370.48 316.50,379.66 362.50,346.02 408.50,336.84" fill="none" stroke="#e6b030" stroke-width="1"/>
<path d="M220.50,382.72L228.50,382.72M224.50,378.72L224.50,386.72" stroke="#e6b030" stroke-width="1.0" fill="none"/>
<path d="M266.50,370.48L274.50,370.48M270.50,366.48L270.50,374.48" stroke="#e6b030" stroke-width="1.0" fill="none"/>
<path d="M312.50,379.66L320.50,379.66M316.50,375.66L316.50,383.66" stroke="#e6b030" stroke-width="1.0" fill="none"/>
<path d="M358.50,346.02L366.50,346.02M362.50,342.02L362.50,350.02" stroke="#e6b030" stroke-width="1.0" fill="none"/>
<path d="M404.50,336.84L412.50,336.84M408.50,332.84L408.50,340.84" stroke="#e6b030" stroke-width="1.0" fill="none"/>
<polyline points="224.50,416.36 270.50,388.83 316.50,339.90 362.50,339.90 408.50,327.67" fill="none" stroke="#7a3a8a" stroke-width="1"/>
<path d="M221.30,413.16L227.70,419.56M221.30,419.56L227.70,413.16" stroke="#7a3a8a" stroke-width="1.0" fill="none"/>
<path d="M267.30,385.63L273.70,392.03M267.30,392.03L273.70,385.63" stroke="#7a3a8a" stroke-width="1.0" fill="none"/>
<path d="M313.30,336.70L319.70,343.10M313.30,343.10L319.70,336.70" stroke="#7a3a8a" stroke-width="1.0" fill="none"/>
<path d="M359.30,336.70L365.70,343.10M359.30,343.10L365.70,336.70" stroke="#7a3a8a" stroke-width="1.0" fill="none"/>
<path d="M405.30,324.47L411.70,330.87M405.30,330.87L411.70,324.47" stroke="#7a3a8a" stroke-width="1.0" fill="none"/>
<rect x="224.5" y="266.5" width="184.0" height="183.5" fill="none" stroke="#484848" stroke-width="1.1"/>
<path d="M224.50,450.0v-2M224.50,266.5v2M270.50,450.0v-2M270.50,266.5v2M316.50,450.0v-2M316.50,266.5v2M362.50,450.0v-2M362.50,266.5v2M408.50,450.0v-2M408.50,266.5v2M224.5,450.00h2M408.5,450.00h-2M224.5,419.42h2M408.5,419.42h-2M224.5,388.83h2M408.5,388.83h-2M224.5,358.25h2M408.5,358.25h-2M224.5,327.67h2M408.5,327.67h-2M224.5,297.08h2M408.5,297.08h-2M224.5,266.50h2M408.5,266.50h-2" stroke="#262626" stroke-width="1" fill="none"/>
<text x="223.90" y="466.4" font-size="13" fill="#262626" text-anchor="middle">4.8</text>
<text x="269.90" y="466.4" font-size="13" fill="#262626" text-anchor="middle">9.7</text>
<text x="315.90" y="466.4" font-size="13" fill="#262626" text-anchor="middle">19.5</text>
<text x="361.90" y="466.4" font-size="13" fill="#262626" text-anchor="middle">39.0</text>
<text x="407.90" y="466.4" font-size="13" fill="#262626" text-anchor="middle">78.1</text>
<text x="220.2" y="455.10" font-size="13" fill="#262626" text-anchor="end">90</text>
<text x="220.2" y="424.52" font-size="13" fill="#262626" text-anchor="end">91</text>
<text x="220.2" y="393.93" font-size="13" fill="#262626" text-anchor="end">92</text>
<text x="220.2" y="363.35" font-size="13" fill="#262626" text-anchor="end">93</text>
<text x="220.2" y="332.77" font-size="13" fill="#262626" text-anchor="end">94</text>
<text x="220.2" y="302.18" font-size="13" fill="#262626" text-anchor="end">95</text>
<text x="220.2" y="271.60" font-size="13" fill="#262626" text-anchor="end">96</text>
<text x="316.50" y="483.6" font-size="14.6" fill="#262626" text-anchor="middle">Exposure time[ms]</text>
<text x="201.2" y="358.25" font-size="14.4" fill="#262626" text-anchor="middle" transform="rotate(-90 201.2 358.25)">MOTP</text>
<path d="M474.70,266.5V450.0M483.90,266.5V450.0M493.10,266.5V450.0M502.30,266.5V450.0M520.70,266.5V450.0M529.90,266.5V450.0M539.10,266.5V450.0M548.30,266.5V450.0M566.70,266.5V450.0M575.90,266.5V450.0M585.10,266.5V450.0M594.30,266.5V450.0M612.70,266.5V450.0M621.90,266.5V450.0M631.10,266.5V450.0M640.30,266.5V450.0M465.5,440.82H649.5M465.5,431.65H649.5M465.5,422.48H649.5M465.5,413.30H649.5M465.5,394.95H649.5M465.5,385.77H649.5M465.5,376.60H649.5M465.5,367.43H649.5M465.5,349.07H649.5M465.5,339.90H649.5M465.5,330.73H649.5M465.5,321.55H649.5M465.5,303.20H649.5M465.5,294.02H649.5M465.5,284.85H649.5M465.5,275.68H649.5" stroke="#e6e6e6" stroke-width="0.9" stroke-dasharray="1.2,1.3" fill="none"/>
<path d="M511.50,266.5V450.0M557.50,266.5V450.0M603.50,266.5V450.0M465.5,404.12H649.5M465.5,358.25H649.5M465.5,312.38H649.5" stroke="#e0e0e0" stroke-width="0.9" stroke-dasharray="1.2,1.3" fill="none"/>
<polyline points="465.50,427.52 511.50,428.21 557.50,435.09 603.50,435.09 649.50,342.88" fill="none" stroke="#33cc33" stroke-width="1"/>
<circle cx="465.50" cy="427.52" r="3.80" fill="none" stroke="#33cc33" stroke-width="1.0"/>
<circle cx="511.50" cy="428.21" r="3.80" fill="none" stroke="#33cc33" stroke-width="1.0"/>
<circle cx="557.50" cy="435.09" r="3.80" fill="none" stroke="#33cc33" stroke-width="1.0"/>
<circle cx="603.50" cy="435.09" r="3.80" fill="none" stroke="#33cc33" stroke-width="1.0"/>
<circle cx="649.50" cy="342.88" r="3.80" fill="none" stroke="#33cc33" stroke-width="1.0"/>
<polyline points="465.50,446.33 511.50,449.31 557.50,449.31 603.50,449.31 649.50,447.25" fill="none" stroke="#2525c8" stroke-width="1"/>
<path d="M462.30,443.13L468.70,449.53M462.30,449.53L468.70,443.13" stroke="#2525c8" stroke-width="1.0" fill="none"/>
<path d="M508.30,446.11L514.70,452.51M508.30,452.51L514.70,446.11" stroke="#2525c8" stroke-width="1.0" fill="none"/>
<path d="M554.30,446.11L560.70,452.51M554.30,452.51L560.70,446.11" stroke="#2525c8" stroke-width="1.0" fill="none"/>
<path d="M600.30,446.11L606.70,452.51M600.30,452.51L606.70,446.11" stroke="#2525c8" stroke-width="1.0" fill="none"/>
<path d="M646.30,444.05L652.70,450.45M646.30,450.45L652.70,444.05" stroke="#2525c8" stroke-width="1.0" fill="none"/>
<polyline points="465.50,403.67 511.50,409.86 557.50,438.53 603.50,439.68 649.50,399.77" fill="none" stroke="#30e0e0" stroke-width="1"/>
<path d="M462.30,400.47L468.70,406.87M462.30,406.87L468.70,400.47" stroke="#30e0e0" stroke-width="1.0" fill="none"/>
<path d="M508.30,406.66L514.70,413.06M508.30,413.06L514.70,406.66" stroke="#30e0e0" stroke-width="1.0" fill="none"/>
<path d="M554.30,435.33L560.70,441.73M554.30,441.73L560.70,435.33" stroke="#30e0e0" stroke-width="1.0" fill="none"/>
<path d="M600.30,436.48L606.70,442.88M600.30,442.88L606.70,436.48" stroke="#30e0e0" stroke-width="1.0" fill="none"/>
<path d="M646.30,396.57L652.70,402.97M646.30,402.97L652.70,396.57" stroke="#30e0e0" stroke-width="1.0" fill="none"/>
<polyline points="465.50,423.62 511.50,432.11 557.50,443.58 603.50,444.50 649.50,316.27" fill="none" stroke="#e03030" stroke-width="1"/>
<path d="M462.30,420.42L468.70,426.82M462.30,426.82L468.70,420.42" stroke="#e03030" stroke-width="1.0" fill="none"/>
<path d="M508.30,428.91L514.70,435.31M508.30,435.31L514.70,428.91" stroke="#e03030" stroke-width="1.0" fill="none"/>
<path d="M554.30,440.38L560.70,446.78M554.30,446.78L560.70,440.38" stroke="#e03030" stroke-width="1.0" fill="none"/>
<path d="M600.30,441.30L606.70,447.69M600.30,447.69L606.70,441.30" stroke="#e03030" stroke-width="1.0" fill="none"/>
<path d="M646.30,313.07L652.70,319.47M646.30,319.47L652.70,313.07" stroke="#e03030" stroke-width="1.0" fill="none"/>
<polyline points="465.50,421.33 511.50,430.04 557.50,437.84 603.50,438.53 649.50,299.76" fill="none" stroke="#151515" stroke-width="1"/>
<path d="M462.30,418.13L468.70,424.53M462.30,424.53L468.70,418.13" stroke="#151515" stroke-width="1.0" fill="none"/>
<path d="M508.30,426.84L514.70,433.24M508.30,433.24L514.70,426.84" stroke="#151515" stroke-width="1.0" fill="none"/>
<path d="M554.30,434.64L560.70,441.04M554.30,441.04L560.70,434.64" stroke="#151515" stroke-width="1.0" fill="none"/>
<path d="M600.30,435.33L606.70,441.73M600.30,441.73L606.70,435.33" stroke="#151515" stroke-width="1.0" fill="none"/>
<path d="M646.30,296.56L652.70,302.96M646.30,302.96L652.70,296.56" stroke="#151515" stroke-width="1.0" fill="none"/>
<polyline points="465.50,429.36 511.50,441.51 557.50,438.53 603.50,438.53 649.50,304.35" fill="none" stroke="#55b8e0" stroke-width="1"/>
<path d="M462.30,426.16L468.70,432.56M462.30,432.56L468.70,426.16" stroke="#55b8e0" stroke-width="1.0" fill="none"/>
<path d="M508.30,438.31L514.70,444.71M508.30,444.71L514.70,438.31" stroke="#55b8e0" stroke-width="1.0" fill="none"/>
<path d="M554.30,435.33L560.70,441.73M554.30,441.73L560.70,435.33" stroke="#55b8e0" stroke-width="1.0" fill="none"/>
<path d="M600.30,435.33L606.70,441.73M600.30,441.73L606.70,435.33" stroke="#55b8e0" stroke-width="1.0" fill="none"/>
<path d="M646.30,301.15L652.70,307.55M646.30,307.55L652.70,301.15" stroke="#55b8e0" stroke-width="1.0" fill="none"/>
<polyline points="465.50,421.33 511.50,431.65 557.50,443.58 603.50,444.50 649.50,312.83" fill="none" stroke="#a02242" stroke-width="1"/>
<path d="M462.30,418.13L468.70,424.53M462.30,424.53L468.70,418.13" stroke="#a02242" stroke-width="1.0" fill="none"/>
<path d="M508.30,428.45L514.70,434.85M508.30,434.85L514.70,428.45" stroke="#a02242" stroke-width="1.0" fill="none"/>
<path d="M554.30,440.38L560.70,446.78M554.30,446.78L560.70,440.38" stroke="#a02242" stroke-width="1.0" fill="none"/>
<path d="M600.30,441.30L606.70,447.69M600.30,447.69L606.70,441.30" stroke="#a02242" stroke-width="1.0" fill="none"/>
<path d="M646.30,309.63L652.70,316.03M646.30,316.03L652.70,309.63" stroke="#a02242" stroke-width="1.0" fill="none"/>
<polyline points="465.50,425.23 511.50,430.04 557.50,437.84 603.50,438.53 649.50,306.64" fill="none" stroke="#1a70b0" stroke-width="1"/>
<path d="M462.30,422.03L468.70,428.43M462.30,428.43L468.70,422.03" stroke="#1a70b0" stroke-width="1.0" fill="none"/>
<path d="M508.30,426.84L514.70,433.24M508.30,433.24L514.70,426.84" stroke="#1a70b0" stroke-width="1.0" fill="none"/>
<path d="M554.30,434.64L560.70,441.04M554.30,441.04L560.70,434.64" stroke="#1a70b0" stroke-width="1.0" fill="none"/>
<path d="M600.30,435.33L606.70,441.73M600.30,441.73L606.70,435.33" stroke="#1a70b0" stroke-width="1.0" fill="none"/>
<path d="M646.30,303.44L652.70,309.84M646.30,309.84L652.70,303.44" stroke="#1a70b0" stroke-width="1.0" fill="none"/>
<polyline points="465.50,424.77 511.50,430.50 557.50,437.84 603.50,438.53 649.50,316.96" fill="none" stroke="#d45a28" stroke-width="1" stroke-dasharray="6,4"/>
<path d="M462.30,421.57L468.70,427.97M462.30,427.97L468.70,421.57M461.66,424.77L469.34,424.77M465.50,420.93L465.50,428.61" stroke="#d45a28" stroke-width="1.0" fill="none"/>
<path d="M508.30,427.30L514.70,433.70M508.30,433.70L514.70,427.30M507.66,430.50L515.34,430.50M511.50,426.66L511.50,434.34" stroke="#d45a28" stroke-width="1.0" fill="none"/>
<path d="M554.30,434.64L560.70,441.04M554.30,441.04L560.70,434.64M553.66,437.84L561.34,437.84M557.50,434.00L557.50,441.68" stroke="#d45a28" stroke-width="1.0" fill="none"/>
<path d="M600.30,435.33L606.70,441.73M600.30,441.73L606.70,435.33M599.66,438.53L607.34,438.53M603.50,434.69L603.50,442.37" stroke="#d45a28" stroke-width="1.0" fill="none"/>
<path d="M646.30,313.76L652.70,320.16M646.30,320.16L652.70,313.76M645.66,316.96L653.34,316.96M649.50,313.12L649.50,320.80" stroke="#d45a28" stroke-width="1.0" fill="none"/>
<polyline points="465.50,411.92 511.50,416.28 557.50,435.09 603.50,435.09 649.50,353.66" fill="none" stroke="#e6b030" stroke-width="1"/>
<path d="M461.50,411.92L469.50,411.92M465.50,407.92L465.50,415.92" stroke="#e6b030" stroke-width="1.0" fill="none"/>
<path d="M507.50,416.28L515.50,416.28M511.50,412.28L511.50,420.28" stroke="#e6b030" stroke-width="1.0" fill="none"/>
<path d="M553.50,435.09L561.50,435.09M557.50,431.09L557.50,439.09" stroke="#e6b030" stroke-width="1.0" fill="none"/>
<path d="M599.50,435.09L607.50,435.09M603.50,431.09L603.50,439.09" stroke="#e6b030" stroke-width="1.0" fill="none"/>
<path d="M645.50,353.66L653.50,353.66M649.50,349.66L649.50,357.66" stroke="#e6b030" stroke-width="1.0" fill="none"/>
<polyline points="465.50,436.93 511.50,429.36 557.50,439.68 603.50,439.68 649.50,359.86" fill="none" stroke="#7a3a8a" stroke-width="1"/>
<path d="M462.30,433.73L468.70,440.13M462.30,440.13L468.70,433.73" stroke="#7a3a8a" stroke-width="1.0" fill="none"/>
<path d="M508.30,426.16L514.70,432.56M508.30,432.56L514.70,426.16" stroke="#7a3a8a" stroke-width="1.0" fill="none"/>
<path d="M554.30,436.48L560.70,442.88M554.30,442.88L560.70,436.48" stroke="#7a3a8a" stroke-width="1.0" fill="none"/>
<path d="M600.30,436.48L606.70,442.88M600.30,442.88L606.70,436.48" stroke="#7a3a8a" stroke-width="1.0" fill="none"/>
<path d="M646.30,356.66L652.70,363.06M646.30,363.06L652.70,356.66" stroke="#7a3a8a" stroke-width="1.0" fill="none"/>
<rect x="465.5" y="266.5" width="184.0" height="183.5" fill="none" stroke="#484848" stroke-width="1.1"/>
<path d="M465.50,450.0v-2M465.50,266.5v2M511.50,450.0v-2M511.50,266.5v2M557.50,450.0v-2M557.50,266.5v2M603.50,450.0v-2M603.50,266.5v2M649.50,450.0v-2M649.50,266.5v2M465.5,450.00h2M649.5,450.00h-2M465.5,404.12h2M649.5,404.12h-2M465.5,358.25h2M649.5,358.25h-2M465.5,312.38h2M649.5,312.38h-2M465.5,266.50h2M649.5,266.50h-2" stroke="#262626" stroke-width="1" fill="none"/>
<text x="464.90" y="466.4" font-size="13" fill="#262626" text-anchor="middle">4.8</text>
<text x="510.90" y="466.4" font-size="13" fill="#262626" text-anchor="middle">9.7</text>
<text x="556.90" y="466.4" font-size="13" fill="#262626" text-anchor="middle">19.5</text>
<text x="602.90" y="466.4" font-size="13" fill="#262626" text-anchor="middle">39.0</text>
<text x="648.90" y="466.4" font-size="13" fill="#262626" text-anchor="middle">78.1</text>
<text x="461.2" y="455.10" font-size="13" fill="#262626" text-anchor="end">0</text>
<text x="461.2" y="409.23" font-size="13" fill="#262626" text-anchor="end">200</text>
<text x="461.2" y="363.35" font-size="13" fill="#262626" text-anchor="end">400</text>
<text x="461.2" y="317.48" font-size="13" fill="#262626" text-anchor="end">600</text>
<text x="461.2" y="271.60" font-size="13" fill="#262626" text-anchor="end">800</text>
<text x="557.50" y="483.6" font-size="14.6" fill="#262626" text-anchor="middle">Exposure time[ms]</text>
<text x="434.8" y="358.25" font-size="14.4" fill="#262626" text-anchor="middle" transform="rotate(-90 434.8 358.25)">RMSE</text>
<path d="M716.70,266.5V450.0M725.90,266.5V450.0M735.10,266.5V450.0M744.30,266.5V450.0M762.70,266.5V450.0M771.90,266.5V450.0M781.10,266.5V450.0M790.30,266.5V450.0M808.70,266.5V450.0M817.90,266.5V450.0M827.10,266.5V450.0M836.30,266.5V450.0M854.70,266.5V450.0M863.90,266.5V450.0M873.10,266.5V450.0M882.30,266.5V450.0M707.5,442.66H891.5M707.5,435.32H891.5M707.5,427.98H891.5M707.5,420.64H891.5M707.5,405.96H891.5M707.5,398.62H891.5M707.5,391.28H891.5M707.5,383.94H891.5M707.5,369.26H891.5M707.5,361.92H891.5M707.5,354.58H891.5M707.5,347.24H891.5M707.5,332.56H891.5M707.5,325.22H891.5M707.5,317.88H891.5M707.5,310.54H891.5M707.5,295.86H891.5M707.5,288.52H891.5M707.5,281.18H891.5M707.5,273.84H891.5" stroke="#e6e6e6" stroke-width="0.9" stroke-dasharray="1.2,1.3" fill="none"/>
<path d="M753.50,266.5V450.0M799.50,266.5V450.0M845.50,266.5V450.0M707.5,413.30H891.5M707.5,376.60H891.5M707.5,339.90H891.5M707.5,303.20H891.5" stroke="#e0e0e0" stroke-width="0.9" stroke-dasharray="1.2,1.3" fill="none"/>
<polyline points="707.50,390.18 753.50,411.83 799.50,420.27 845.50,441.19 891.50,425.41" fill="none" stroke="#33cc33" stroke-width="1"/>
<circle cx="707.50" cy="390.18" r="3.80" fill="none" stroke="#33cc33" stroke-width="1.0"/>
<circle cx="753.50" cy="411.83" r="3.80" fill="none" stroke="#33cc33" stroke-width="1.0"/>
<circle cx="799.50" cy="420.27" r="3.80" fill="none" stroke="#33cc33" stroke-width="1.0"/>
<circle cx="845.50" cy="441.19" r="3.80" fill="none" stroke="#33cc33" stroke-width="1.0"/>
<circle cx="891.50" cy="425.41" r="3.80" fill="none" stroke="#33cc33" stroke-width="1.0"/>
<polyline points="707.50,378.80 753.50,386.51 799.50,420.27 845.50,415.87 891.50,406.33" fill="none" stroke="#2525c8" stroke-width="1"/>
<path d="M704.30,375.60L710.70,382.00M704.30,382.00L710.70,375.60" stroke="#2525c8" stroke-width="1.0" fill="none"/>
<path d="M750.30,383.31L756.70,389.71M750.30,389.71L756.70,383.31" stroke="#2525c8" stroke-width="1.0" fill="none"/>
<path d="M796.30,417.07L802.70,423.47M796.30,423.47L802.70,417.07" stroke="#2525c8" stroke-width="1.0" fill="none"/>
<path d="M842.30,412.67L848.70,419.07M842.30,419.07L848.70,412.67" stroke="#2525c8" stroke-width="1.0" fill="none"/>
<path d="M888.30,403.13L894.70,409.53M888.30,409.53L894.70,403.13" stroke="#2525c8" stroke-width="1.0" fill="none"/>
<polyline points="707.50,405.59 753.50,416.97 799.50,432.02 845.50,450.00 891.50,439.72" fill="none" stroke="#30e0e0" stroke-width="1"/>
<path d="M704.30,402.39L710.70,408.79M704.30,408.79L710.70,402.39" stroke="#30e0e0" stroke-width="1.0" fill="none"/>
<path d="M750.30,413.77L756.70,420.17M750.30,420.17L756.70,413.77" stroke="#30e0e0" stroke-width="1.0" fill="none"/>
<path d="M796.30,428.82L802.70,435.22M796.30,435.22L802.70,428.82" stroke="#30e0e0" stroke-width="1.0" fill="none"/>
<path d="M842.30,446.80L848.70,453.20M842.30,453.20L848.70,446.80" stroke="#30e0e0" stroke-width="1.0" fill="none"/>
<path d="M888.30,436.52L894.70,442.92M888.30,442.92L894.70,436.52" stroke="#30e0e0" stroke-width="1.0" fill="none"/>
<polyline points="707.50,356.05 753.50,381.74 799.50,384.31 845.50,397.89 891.50,365.22" fill="none" stroke="#e03030" stroke-width="1"/>
<path d="M704.30,352.85L710.70,359.25M704.30,359.25L710.70,352.85" stroke="#e03030" stroke-width="1.0" fill="none"/>
<path d="M750.30,378.54L756.70,384.94M750.30,384.94L756.70,378.54" stroke="#e03030" stroke-width="1.0" fill="none"/>
<path d="M796.30,381.11L802.70,387.51M796.30,387.51L802.70,381.11" stroke="#e03030" stroke-width="1.0" fill="none"/>
<path d="M842.30,394.69L848.70,401.09M842.30,401.09L848.70,394.69" stroke="#e03030" stroke-width="1.0" fill="none"/>
<path d="M888.30,362.02L894.70,368.42M888.30,368.42L894.70,362.02" stroke="#e03030" stroke-width="1.0" fill="none"/>
<polyline points="707.50,278.98 753.50,313.84 799.50,301.00 845.50,375.13 891.50,409.26" fill="none" stroke="#151515" stroke-width="1"/>
<path d="M704.30,275.78L710.70,282.18M704.30,282.18L710.70,275.78" stroke="#151515" stroke-width="1.0" fill="none"/>
<path d="M750.30,310.64L756.70,317.04M750.30,317.04L756.70,310.64" stroke="#151515" stroke-width="1.0" fill="none"/>
<path d="M796.30,297.80L802.70,304.20M796.30,304.20L802.70,297.80" stroke="#151515" stroke-width="1.0" fill="none"/>
<path d="M842.30,371.93L848.70,378.33M842.30,378.33L848.70,371.93" stroke="#151515" stroke-width="1.0" fill="none"/>
<path d="M888.30,406.06L894.70,412.46M888.30,412.46L894.70,406.06" stroke="#151515" stroke-width="1.0" fill="none"/>
<polyline points="707.50,358.98 753.50,365.22 799.50,383.57 845.50,349.07 891.50,297.33" fill="none" stroke="#55b8e0" stroke-width="1"/>
<path d="M704.30,355.78L710.70,362.18M704.30,362.18L710.70,355.78" stroke="#55b8e0" stroke-width="1.0" fill="none"/>
<path d="M750.30,362.02L756.70,368.42M750.30,368.42L756.70,362.02" stroke="#55b8e0" stroke-width="1.0" fill="none"/>
<path d="M796.30,380.37L802.70,386.77M796.30,386.77L802.70,380.37" stroke="#55b8e0" stroke-width="1.0" fill="none"/>
<path d="M842.30,345.88L848.70,352.27M842.30,352.27L848.70,345.88" stroke="#55b8e0" stroke-width="1.0" fill="none"/>
<path d="M888.30,294.13L894.70,300.53M888.30,300.53L894.70,294.13" stroke="#55b8e0" stroke-width="1.0" fill="none"/>
<polyline points="707.50,423.58 753.50,436.42 799.50,420.27 845.50,438.99 891.50,427.98" fill="none" stroke="#a02242" stroke-width="1"/>
<path d="M704.30,420.38L710.70,426.78M704.30,426.78L710.70,420.38" stroke="#a02242" stroke-width="1.0" fill="none"/>
<path d="M750.30,433.22L756.70,439.62M750.30,439.62L756.70,433.22" stroke="#a02242" stroke-width="1.0" fill="none"/>
<path d="M796.30,417.07L802.70,423.47M796.30,423.47L802.70,417.07" stroke="#a02242" stroke-width="1.0" fill="none"/>
<path d="M842.30,435.79L848.70,442.19M842.30,442.19L848.70,435.79" stroke="#a02242" stroke-width="1.0" fill="none"/>
<path d="M888.30,424.78L894.70,431.18M888.30,431.18L894.70,424.78" stroke="#a02242" stroke-width="1.0" fill="none"/>
<polyline points="707.50,391.28 753.50,406.69 799.50,399.72 845.50,436.05 891.50,424.31" fill="none" stroke="#1a70b0" stroke-width="1"/>
<path d="M704.30,388.08L710.70,394.48M704.30,394.48L710.70,388.08" stroke="#1a70b0" stroke-width="1.0" fill="none"/>
<path d="M750.30,403.49L756.70,409.89M750.30,409.89L756.70,403.49" stroke="#1a70b0" stroke-width="1.0" fill="none"/>
<path d="M796.30,396.52L802.70,402.92M796.30,402.92L802.70,396.52" stroke="#1a70b0" stroke-width="1.0" fill="none"/>
<path d="M842.30,432.85L848.70,439.25M842.30,439.25L848.70,432.85" stroke="#1a70b0" stroke-width="1.0" fill="none"/>
<path d="M888.30,421.11L894.70,427.51M888.30,427.51L894.70,421.11" stroke="#1a70b0" stroke-width="1.0" fill="none"/>
<polyline points="707.50,390.18 753.50,409.63 799.50,420.27 845.50,438.99 891.50,427.25" fill="none" stroke="#d45a28" stroke-width="1" stroke-dasharray="6,4"/>
<path d="M704.30,386.98L710.70,393.38M704.30,393.38L710.70,386.98M703.66,390.18L711.34,390.18M707.50,386.34L707.50,394.02" stroke="#d45a28" stroke-width="1.0" fill="none"/>
<path d="M750.30,406.43L756.70,412.83M750.30,412.83L756.70,406.43M749.66,409.63L757.34,409.63M753.50,405.79L753.50,413.47" stroke="#d45a28" stroke-width="1.0" fill="none"/>
<path d="M796.30,417.07L802.70,423.47M796.30,423.47L802.70,417.07M795.66,420.27L803.34,420.27M799.50,416.43L799.50,424.11" stroke="#d45a28" stroke-width="1.0" fill="none"/>
<path d="M842.30,435.79L848.70,442.19M842.30,442.19L848.70,435.79M841.66,438.99L849.34,438.99M845.50,435.15L845.50,442.83" stroke="#d45a28" stroke-width="1.0" fill="none"/>
<path d="M888.30,424.05L894.70,430.45M888.30,430.45L894.70,424.05M887.66,427.25L895.34,427.25M891.50,423.41L891.50,431.09" stroke="#d45a28" stroke-width="1.0" fill="none"/>
<polyline points="707.50,390.18 753.50,404.49 799.50,413.30 845.50,422.11 891.50,375.87" fill="none" stroke="#e6b030" stroke-width="1"/>
<path d="M703.50,390.18L711.50,390.18M707.50,386.18L707.50,394.18" stroke="#e6b030" stroke-width="1.0" fill="none"/>
<path d="M749.50,404.49L757.50,404.49M753.50,400.49L753.50,408.49" stroke="#e6b030" stroke-width="1.0" fill="none"/>
<path d="M795.50,413.30L803.50,413.30M799.50,409.30L799.50,417.30" stroke="#e6b030" stroke-width="1.0" fill="none"/>
<path d="M841.50,422.11L849.50,422.11M845.50,418.11L845.50,426.11" stroke="#e6b030" stroke-width="1.0" fill="none"/>
<path d="M887.50,375.87L895.50,375.87M891.50,371.87L891.50,379.87" stroke="#e6b030" stroke-width="1.0" fill="none"/>
<polyline points="707.50,394.95 753.50,416.97 799.50,420.27 845.50,438.99 891.50,394.22" fill="none" stroke="#7a3a8a" stroke-width="1"/>
<path d="M704.30,391.75L710.70,398.15M704.30,398.15L710.70,391.75" stroke="#7a3a8a" stroke-width="1.0" fill="none"/>
<path d="M750.30,413.77L756.70,420.17M750.30,420.17L756.70,413.77" stroke="#7a3a8a" stroke-width="1.0" fill="none"/>
<path d="M796.30,417.07L802.70,423.47M796.30,423.47L802.70,417.07" stroke="#7a3a8a" stroke-width="1.0" fill="none"/>
<path d="M842.30,435.79L848.70,442.19M842.30,442.19L848.70,435.79" stroke="#7a3a8a" stroke-width="1.0" fill="none"/>
<path d="M888.30,391.02L894.70,397.42M888.30,397.42L894.70,391.02" stroke="#7a3a8a" stroke-width="1.0" fill="none"/>
<rect x="707.5" y="266.5" width="184.0" height="183.5" fill="none" stroke="#484848" stroke-width="1.1"/>
<path d="M707.50,450.0v-2M707.50,266.5v2M753.50,450.0v-2M753.50,266.5v2M799.50,450.0v-2M799.50,266.5v2M845.50,450.0v-2M845.50,266.5v2M891.50,450.0v-2M891.50,266.5v2M707.5,450.00h2M891.5,450.00h-2M707.5,413.30h2M891.5,413.30h-2M707.5,376.60h2M891.5,376.60h-2M707.5,339.90h2M891.5,339.90h-2M707.5,303.20h2M891.5,303.20h-2M707.5,266.50h2M891.5,266.50h-2" stroke="#262626" stroke-width="1" fill="none"/>
<text x="706.90" y="466.4" font-size="13" fill="#262626" text-anchor="middle">4.8</text>
<text x="752.90" y="466.4" font-size="13" fill="#262626" text-anchor="middle">9.7</text>
<text x="798.90" y="466.4" font-size="13" fill="#262626" text-anchor="middle">19.5</text>
<text x="844.90" y="466.4" font-size="13" fill="#262626" text-anchor="middle">39.0</text>
<text x="890.90" y="466.4" font-size="13" fill="#262626" text-anchor="middle">78.1</text>
<text x="703.2" y="455.10" font-size="13" fill="#262626" text-anchor="end">3</text>
<text x="703.2" y="418.40" font-size="13" fill="#262626" text-anchor="end">4</text>
<text x="703.2" y="381.70" font-size="13" fill="#262626" text-anchor="end">5</text>
<text x="703.2" y="345.00" font-size="13" fill="#262626" text-anchor="end">6</text>
<text x="703.2" y="308.30" font-size="13" fill="#262626" text-anchor="end">7</text>
<text x="703.2" y="271.60" font-size="13" fill="#262626" text-anchor="end">8</text>
<text x="799.50" y="483.6" font-size="14.6" fill="#262626" text-anchor="middle">Exposure time[ms]</text>
<text x="691.2" y="358.25" font-size="14.4" fill="#262626" text-anchor="middle" transform="rotate(-90 691.2 358.25)">RMSE</text>
</svg>
<div class="cap">
<div class="j">Fig. 5: Comparison of glare reduction methods based on the performance of various CV applications. (Top: Left to Right) Object</div>
<div class="j">detection, Object recognition, Object tracking. (Bottom: Left to Right) Object tracking, Lane detection, Depth estimation. (Glare</div>
<div class="j">reduction methods) Input, Proposed, Laplacian Filter, Reflection removal [34], PFFNet [33], C2PNet [32], Unsharp masking,</div>
<div class="l">Deblur [35], Wiener Filter, Veiling glare removal [10]</div>
</div>
</body></html>
